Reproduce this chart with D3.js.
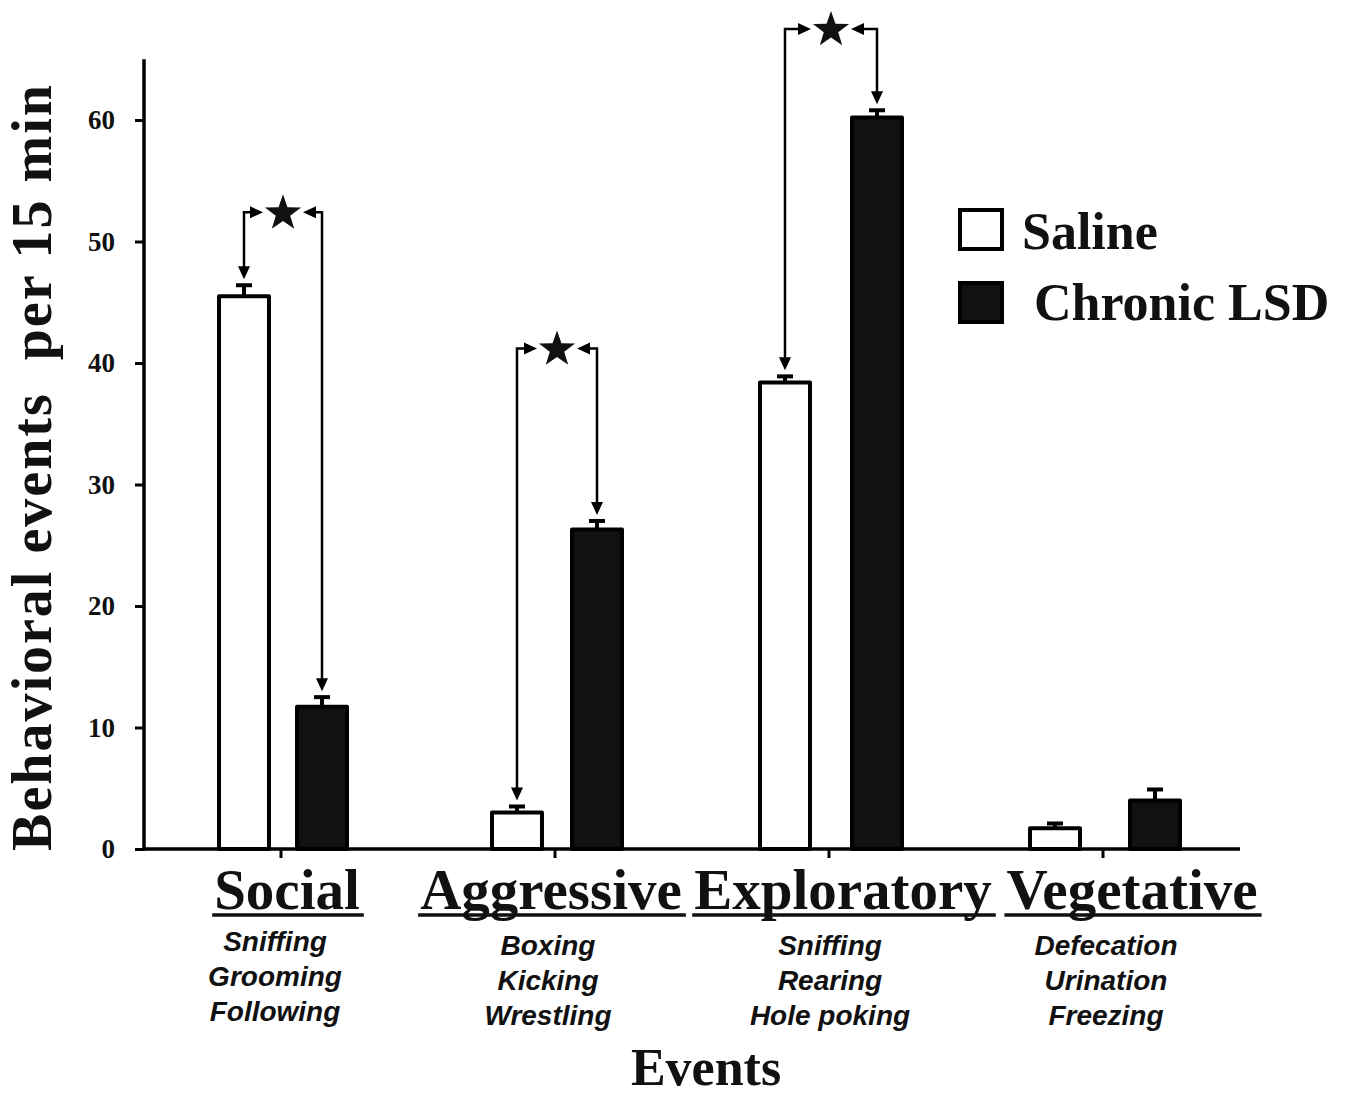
<!DOCTYPE html>
<html>
<head>
<meta charset="utf-8">
<script src="https://cdn.jsdelivr.net/npm/d3@7"></script>
<style>
  html, body { margin: 0; padding: 0; background: #fff; }
  svg { display: block; }
</style>
</head>
<body>
<svg id="chart" width="1352" height="1100"></svg>
<script>
// ---- data ----
const categories = ["Social", "Aggressive", "Exploratory", "Vegetative"];
const subLabels = [
  ["Sniffing", "Grooming", "Following"],
  ["Boxing", "Kicking", "Wrestling"],
  ["Sniffing", "Rearing", "Hole poking"],
  ["Defecation", "Urination", "Freezing"]
];
const series = ["Saline", "Chronic LSD"];
const salineValues = [45.5, 3.0, 38.4, 1.7];
const salineErrors = [0.9, 0.5, 0.5, 0.4];
const lsdValues = [11.7, 26.3, 60.2, 4.0];
const lsdErrors = [0.8, 0.7, 0.6, 0.9];
const yTicks = [0, 10, 20, 30, 40, 50, 60];
const sigCategories = ["Social", "Aggressive", "Exploratory"];
const sigLevels = [52.4, 41.2, 67.5];

// ---- layout ----
const svg = d3.select("#chart");
const plotLeft = 144, plotRight = 1240, plotBottom = 849, plotTop = 120;
const y = d3.scaleLinear().domain([0, 60]).range([plotBottom, plotTop]);
const x0 = d3.scaleBand().domain(categories).range([plotLeft, plotRight]);
const x1 = d3.scaleBand().domain(series).range([72, 206]).paddingInner(0.405);
// small per-group layout tweaks (pixels)
const titleShift = [6, -4, 14, 29];
const subShift = [-6, -7, 1, 3];
const barSpread = [-3, -2, 4, 8];

const serif = "'Liberation Serif', 'DejaVu Serif', serif";
const sans = "'Liberation Sans', Arial, sans-serif";

// y axis
const yAxis = d3.axisLeft(y).tickValues(yTicks).tickSize(9).tickPadding(20);
const gy = svg.append("g").attr("transform", `translate(${plotLeft},0)`).call(yAxis);
gy.select(".domain").remove();
gy.selectAll(".tick line").attr("stroke", "#000").attr("stroke-width", 3);
gy.selectAll(".tick text")
  .attr("font-family", serif).attr("font-weight", "bold").attr("font-size", 27)
  .attr("fill", "#111");
svg.append("line").attr("x1", plotLeft).attr("x2", plotLeft)
  .attr("y1", y(65)).attr("y2", plotBottom + 1.5)
  .attr("stroke", "#000").attr("stroke-width", 3.5);

// x axis
svg.append("line").attr("x1", plotLeft - 1).attr("x2", plotRight)
  .attr("y1", plotBottom).attr("y2", plotBottom)
  .attr("stroke", "#000").attr("stroke-width", 3.5);
svg.selectAll(".xtick").data(categories).enter().append("line")
  .attr("x1", d => x0(d) + x0.bandwidth() / 2)
  .attr("x2", d => x0(d) + x0.bandwidth() / 2)
  .attr("y1", plotBottom).attr("y2", plotBottom + 9)
  .attr("stroke", "#000").attr("stroke-width", 3);

// bars
const rows = [];
categories.forEach((c, i) => {
  rows.push({cat: c, i: i, s: "Saline", v: salineValues[i], e: salineErrors[i]});
  rows.push({cat: c, i: i, s: "Chronic LSD", v: lsdValues[i], e: lsdErrors[i]});
});
const bx = d => x0(d.cat) + x1(d.s) + (d.s === "Saline" ? -1 : 1) * barSpread[d.i];
const bc = d => bx(d) + x1.bandwidth() / 2;

// error bars
const eb = svg.append("g");
eb.selectAll("line.err").data(rows).enter().append("line")
  .attr("x1", bc).attr("x2", bc)
  .attr("y1", d => y(d.v)).attr("y2", d => y(d.v + d.e))
  .attr("stroke", "#000").attr("stroke-width", 4);
eb.selectAll("line.cap").data(rows).enter().append("line")
  .attr("x1", d => bc(d) - 8).attr("x2", d => bc(d) + 8)
  .attr("y1", d => y(d.v + d.e)).attr("y2", d => y(d.v + d.e))
  .attr("stroke", "#000").attr("stroke-width", 4);

svg.append("g").selectAll("rect").data(rows).enter().append("rect")
  .attr("x", bx).attr("width", x1.bandwidth())
  .attr("y", d => y(d.v)).attr("height", d => y(0) - y(d.v))
  .attr("fill", d => d.s === "Saline" ? "#fff" : "#111")
  .attr("stroke", "#000").attr("stroke-width", 4)
  .attr("stroke-linejoin", "round");

// significance brackets
function arrowHead(g, x, yy, dir) {
  const L = 13, W = 6;
  let pts;
  if (dir === "down") pts = [[x, yy], [x - W, yy - L], [x + W, yy - L]];
  else if (dir === "right") pts = [[x, yy], [x - L, yy - W], [x - L, yy + W]];
  else pts = [[x, yy], [x + L, yy - W], [x + L, yy + W]];
  g.append("path").attr("d", "M" + pts.map(p => p.join(",")).join("L") + "Z").attr("fill", "#000");
}
function star(cx, cy, R) {
  const r = R * 0.4;
  const pts = [];
  for (let k = 0; k < 10; k++) {
    const a = -Math.PI / 2 + k * Math.PI / 5;
    const rr = k % 2 === 0 ? R : r;
    pts.push([cx + rr * Math.cos(a), cy + rr * Math.sin(a)]);
  }
  return "M" + pts.map(p => p.join(",")).join("L") + "Z";
}
const sg = svg.append("g");
sigCategories.forEach((c, k) => {
  const i = categories.indexOf(c);
  const sal = rows[i * 2], lsd = rows[i * 2 + 1];
  const xl = bc(sal), xr = bc(lsd);
  const yt = y(sigLevels[k]);
  const xs = (xl + xr) / 2;
  const ylEnd = y(sal.v + sal.e) - 6, yrEnd = y(lsd.v + lsd.e) - 6;
  const p1 = sg.append("path").attr("d", `M${xl},${ylEnd - 10}L${xl},${yt}L${xs - 32},${yt}`);
  const p2 = sg.append("path").attr("d", `M${xr},${yrEnd - 10}L${xr},${yt}L${xs + 32},${yt}`);
  [p1, p2].forEach(p => p.attr("stroke", "#000").attr("stroke-width", 2.5).attr("fill", "none"));
  arrowHead(sg, xl, ylEnd, "down");
  arrowHead(sg, xr, yrEnd, "down");
  arrowHead(sg, xs - 20, yt, "right");
  arrowHead(sg, xs + 20, yt, "left");
  sg.append("path").attr("d", star(xs, yt + 1, 19)).attr("fill", "#111");
});

// category labels
const lab = svg.append("g");
categories.forEach((c, i) => {
  const cx = x0(c) + x0.bandwidth() / 2;
  const tx = cx + titleShift[i];
  const t = lab.append("text").attr("x", tx).attr("y", 909)
    .attr("text-anchor", "middle")
    .attr("font-family", serif).attr("font-weight", "bold").attr("font-size", 57)
    .attr("fill", "#111").text(c);
  const w = t.node().getComputedTextLength();
  lab.append("line").attr("x1", tx - w / 2 - 2).attr("x2", tx + w / 2 + 4)
    .attr("y1", 915).attr("y2", 915).attr("stroke", "#111").attr("stroke-width", 3.5);
  subLabels[i].forEach((s, j) => {
    lab.append("text").attr("x", cx + subShift[i]).attr("y", 951 + j * 35 + (i > 0 ? 4 : 0))
      .attr("text-anchor", "middle")
      .attr("font-family", sans).attr("font-weight", "bold").attr("font-style", "italic")
      .attr("font-size", 28).attr("fill", "#111").text(s);
  });
});

// axis titles
svg.append("text").attr("x", 706).attr("y", 1085).attr("text-anchor", "middle")
  .attr("font-family", serif).attr("font-weight", "bold").attr("font-size", 52)
  .attr("fill", "#111").text("Events");
svg.append("text").attr("transform", "translate(51,467) rotate(-90)")
  .attr("text-anchor", "middle")
  .attr("font-family", serif).attr("font-weight", "bold").attr("font-size", 56)
  .attr("letter-spacing", 2)
  .attr("fill", "#111").style("white-space", "pre")
  .text("Behavioral events  per 15 min");

// legend
const lg = svg.append("g");
series.forEach((s, i) => {
  lg.append("rect").attr("x", 960).attr("y", 210 + i * 73).attr("width", 42).attr("height", 39)
    .attr("fill", i === 0 ? "#fff" : "#111").attr("stroke", "#000").attr("stroke-width", 4);
  lg.append("text").attr("x", i === 0 ? 1022 : 1034).attr("y", 249 + i * 71)
    .attr("font-family", serif).attr("font-weight", "bold").attr("font-size", 52)
    .attr("fill", "#111").text(s);
});
</script>
</body>
</html>
